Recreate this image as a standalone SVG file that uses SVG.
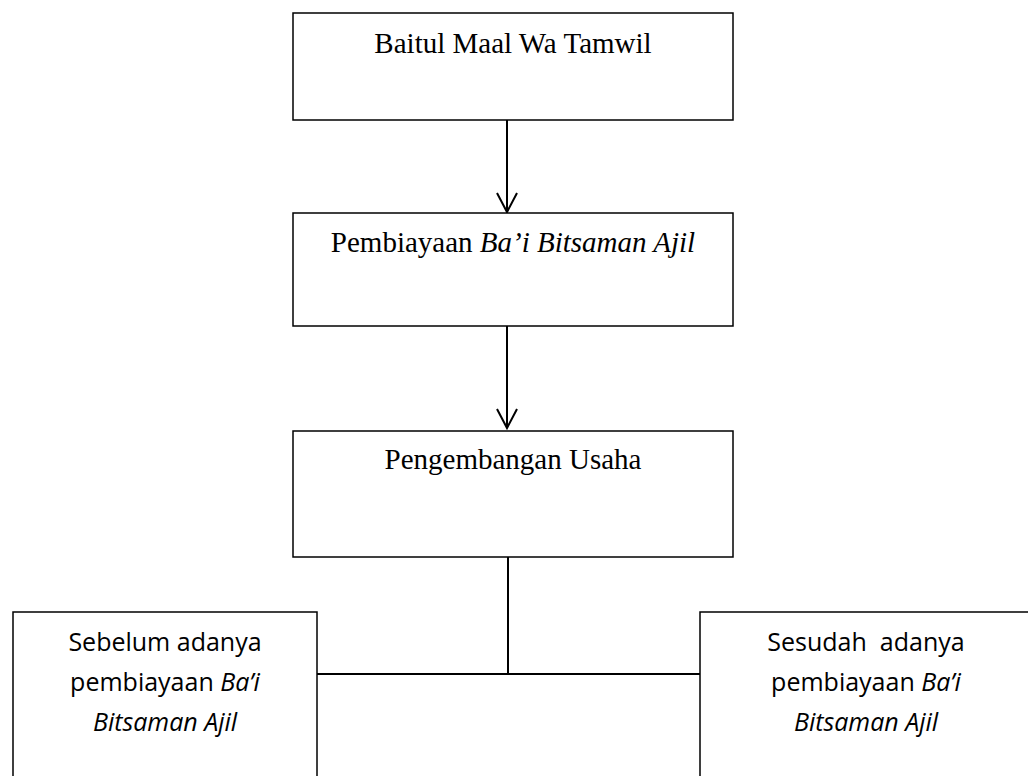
<svg xmlns="http://www.w3.org/2000/svg" width="1028" height="776" viewBox="0 0 1028 776">
<defs>
<style>
.box{fill:#fff;stroke:#000;stroke-width:1.5}
.ser{font-family:"Liberation Serif","Times New Roman",serif;font-size:29px;fill:#000}
.san{font-family:"Open Sans","Noto Sans",sans-serif;font-size:25px;fill:#000}
.con{fill:none;stroke:#000;stroke-width:2}
.it{font-style:italic}
</style>
<marker id="arr" markerUnits="userSpaceOnUse" markerWidth="24" markerHeight="24" refX="20" refY="12" orient="auto" viewBox="0 0 24 24">
<path d="M1,2 L20,12 L1,22" fill="none" stroke="#000" stroke-width="2"/>
</marker>
</defs>
<rect width="1028" height="776" fill="#fff"/>
<g id="connectors">
<line class="con" x1="507" y1="120" x2="507" y2="212" marker-end="url(#arr)"/>
<line class="con" x1="507" y1="326" x2="507" y2="428" marker-end="url(#arr)"/>
<line class="con" x1="508" y1="557" x2="508" y2="674"/>
<line class="con" x1="317" y1="674" x2="700" y2="674"/>
</g>
<g id="bmt">
<rect class="box" x="293" y="13" width="440" height="107"/>
<text class="ser" x="513" y="53" text-anchor="middle">Baitul Maal Wa Tamwil</text>
</g>
<g id="pembiayaan">
<rect class="box" x="293" y="213" width="440" height="113"/>
<text class="ser" x="513" y="252" text-anchor="middle">Pembiayaan <tspan class="it">Ba’i Bitsaman Ajil</tspan></text>
</g>
<g id="pengembangan">
<rect class="box" x="293" y="431" width="440" height="126"/>
<text class="ser" x="513" y="469" text-anchor="middle">Pengembangan Usaha</text>
</g>
<g id="sebelum">
<rect class="box" x="13" y="612" width="304" height="180"/>
<text class="san" text-anchor="middle"><tspan x="165" y="651">Sebelum adanya</tspan><tspan x="165" y="691">pembiayaan <tspan class="it">Ba’i</tspan></tspan><tspan x="165" y="731" class="it">Bitsaman Ajil</tspan></text>
</g>
<g id="sesudah">
<rect class="box" x="700" y="612" width="334" height="180"/>
<text class="san" text-anchor="middle" xml:space="preserve"><tspan x="866" y="651">Sesudah  adanya</tspan><tspan x="866" y="691">pembiayaan <tspan class="it">Ba’i</tspan></tspan><tspan x="866" y="731" class="it">Bitsaman Ajil</tspan></text>
</g>
</svg>
